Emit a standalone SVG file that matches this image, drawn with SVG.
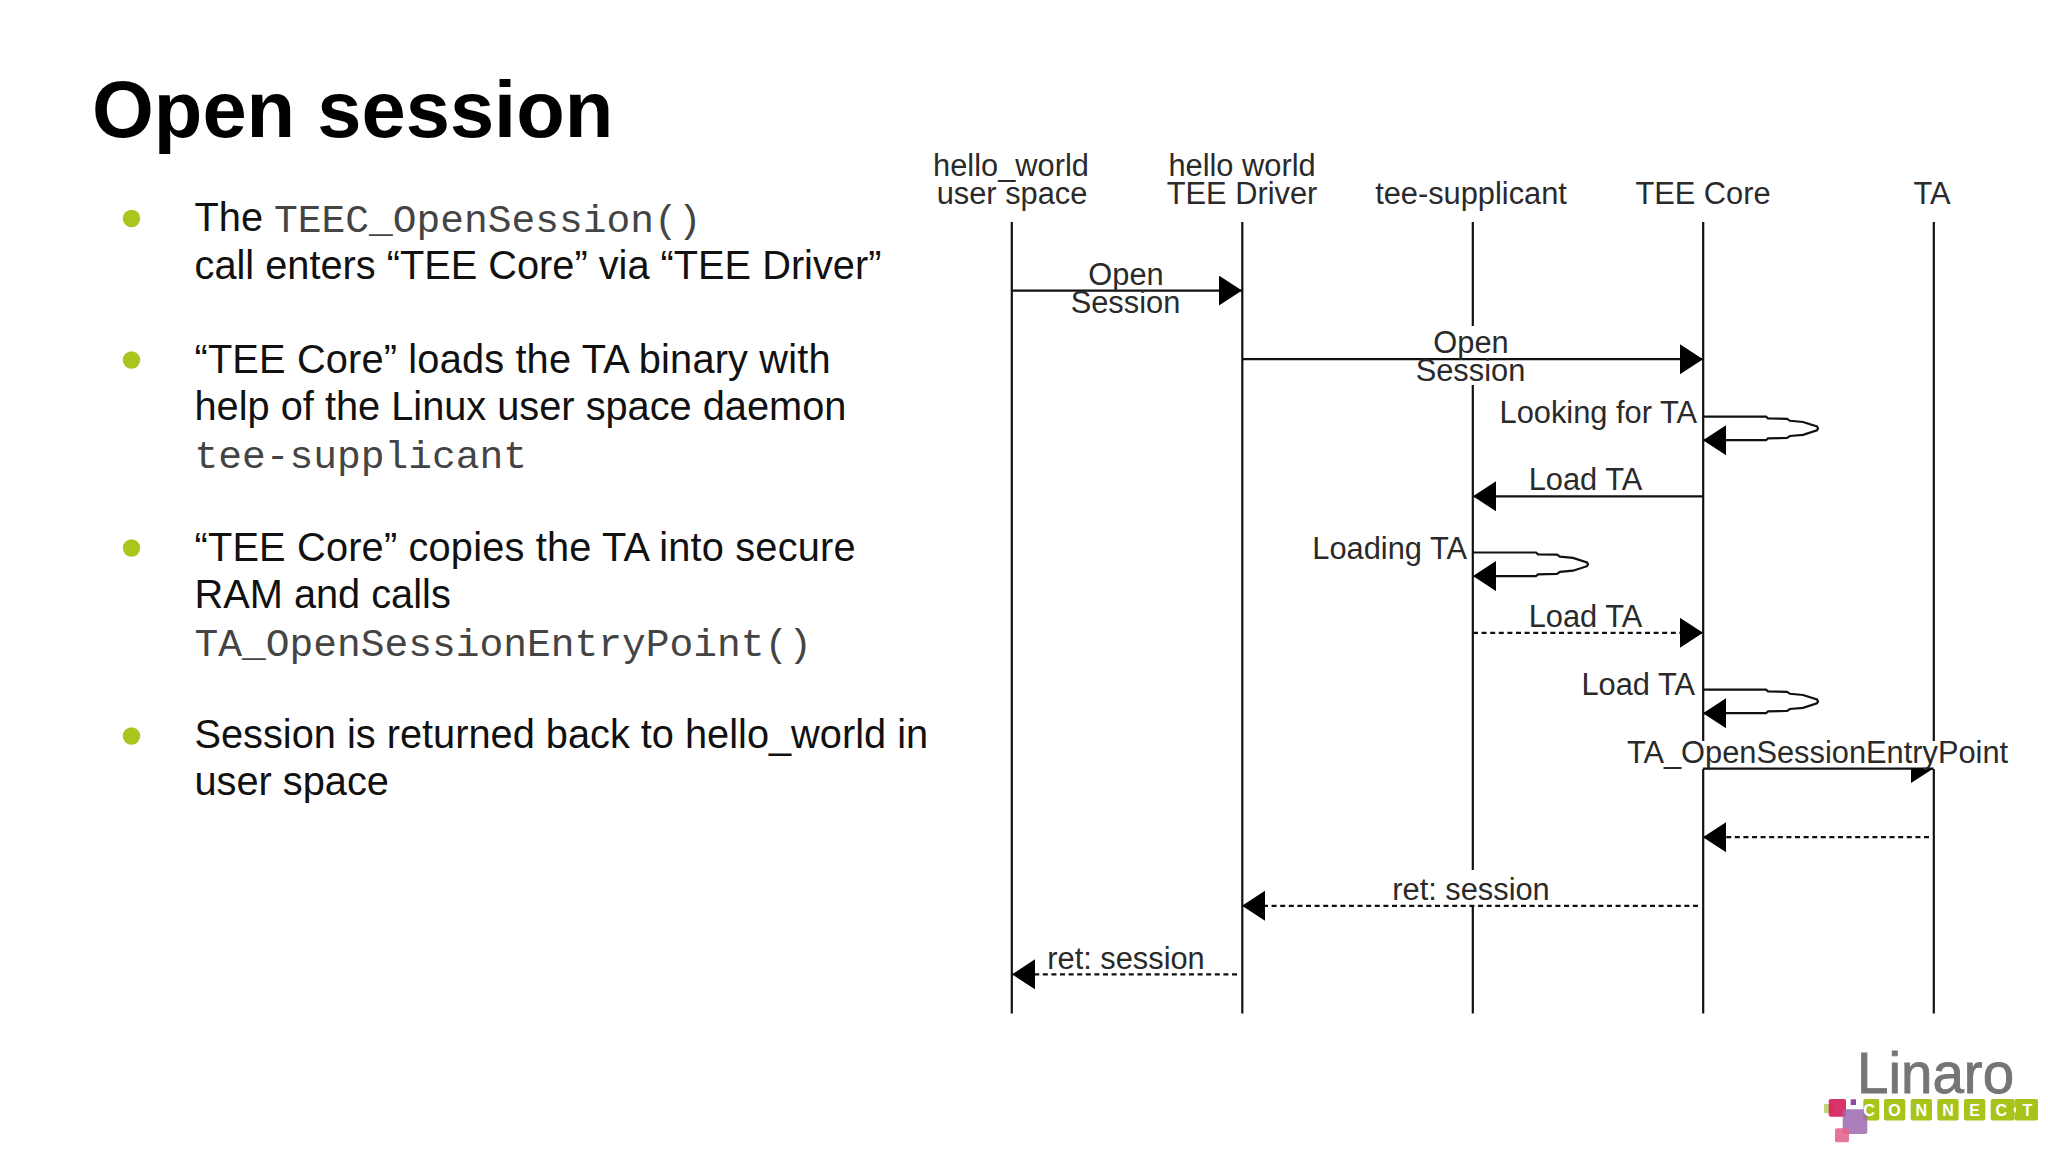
<svg xmlns="http://www.w3.org/2000/svg" width="2048" height="1152" viewBox="0 0 2048 1152">
<style>
text{font-family:"Liberation Sans",Arial,sans-serif}
.t{font-size:79.500px;font-weight:700;fill:#000}
.b{font-size:39.750px;fill:#111}
.m{font-family:"Liberation Mono","Courier New",monospace;font-size:39.600px;fill:#444}
.d{font-size:30.800px;fill:#2a2a2a}
.c{text-anchor:middle}
.e{text-anchor:end}
.dot{fill:#a9c51e}
.ll{stroke:#111;stroke-width:2.2;fill:none}
.a{stroke:#111;stroke-width:2.2;fill:none;marker-end:url(#h)}
.s{stroke-dasharray:5 3.6}
.tile{fill:#a8c41a}
.lt{font-size:16px;font-weight:700;fill:#fff;text-anchor:middle}
</style>
<defs>
<marker id="h" markerUnits="userSpaceOnUse" markerWidth="25" markerHeight="32" refX="23" refY="15" orient="auto"><path d="M0 0L23 15L0 30Z" fill="#000"/></marker>
</defs>
<rect width="2048" height="1152" fill="#fff"/>
<g id="slide-text">
<text class="t" x="92" y="137">Open session</text>
<circle class="dot" cx="131.500" cy="218.500" r="8.700"/>
<text class="b" x="194.500" y="231">The <tspan class="m" dy="1">TEEC_OpenSession()</tspan></text>
<text class="b" x="194.500" y="278.500">call enters “TEE Core” via “TEE Driver”</text>
<circle class="dot" cx="131.500" cy="360" r="8.700"/>
<text class="b" x="194.500" y="372.500" textLength="636" lengthAdjust="spacing">“TEE Core” loads the TA binary with</text>
<text class="b" x="194.500" y="419.500">help of the Linux user space daemon</text>
<text class="m" x="194.500" y="467.500">tee-supplicant</text>
<circle class="dot" cx="131.500" cy="548" r="8.700"/>
<text class="b" x="194.500" y="560.500" textLength="661" lengthAdjust="spacing">“TEE Core” copies the TA into secure</text>
<text class="b" x="194.500" y="607.500">RAM and calls</text>
<text class="m" x="194.500" y="655.500">TA_OpenSessionEntryPoint()</text>
<circle class="dot" cx="131.500" cy="736" r="8.700"/>
<text class="b" x="194.500" y="747.500">Session is returned back to hello_world in</text>
<text class="b" x="194.500" y="795">user space</text>
</g>
<g id="node-hello-user">
<text class="d c" x="1011" y="176">hello_world</text>
<text class="d c" x="1012" y="204">user space</text>
<path class="ll" d="M1011.800 222V1013.500"/>
</g>
<g id="node-hello-driver">
<text class="d c" x="1242" y="176">hello world</text>
<text class="d c" x="1242" y="204">TEE Driver</text>
<path class="ll" d="M1242.300 222V1013.500"/>
</g>
<g id="node-tee-supplicant">
<text class="d c" x="1471" y="204">tee-supplicant</text>
<path class="ll" d="M1472.800 222V326M1472.800 385V870M1472.800 907V1013.500"/>
</g>
<g id="node-tee-core">
<text class="d c" x="1703" y="204">TEE Core</text>
<path class="ll" d="M1703.200 222V741M1703.200 769V1013.500"/>
</g>
<g id="node-ta">
<text class="d c" x="1932" y="204">TA</text>
<path class="ll" d="M1933.800 222V741M1933.800 769V1013.500"/>
</g>
<g id="connectors">
<path class="a" d="M1012 290.600H1242"/>
<path class="a" d="M1242 359.200H1703"/>
<path class="a" d="M1703 416.600H1766L1768 418.400L1787 418.800L1790 420.800L1803 422L1817 426.500L1818 428.400L1817 430.300L1803 434.800L1790 436L1787 438L1768 438.400L1766 440.200H1703"/>
<path class="a" d="M1703 496.300H1473"/>
<path class="a" d="M1473 552.500H1536L1538 554.300L1557 554.700L1560 556.700L1573 557.900L1587 562.400L1588 564.300L1587 566.200L1573 570.700L1560 571.900L1557 573.900L1538 574.300L1536 576.100H1473"/>
<path class="a s" d="M1473 632.800H1703"/>
<path class="a" d="M1703 689.600H1766L1768 691.400L1787 691.800L1790 693.800L1803 695L1817 699.500L1818 701.400L1817 703.300L1803 707.800L1790 709L1787 711L1768 711.400L1766 713.200H1703"/>
<path class="ll" d="M1703 768.600H1933.500"/>
<path d="M1911 768.600H1933.500L1911 783Z" fill="#000"/>
<path class="a s" d="M1929 837.200H1703"/>
<path class="a s" d="M1698 905.800H1242"/>
<path class="a s" d="M1237 974.300H1012"/>
<text class="d c" x="1126" y="284.700">Open</text>
<text class="d c" x="1125.500" y="312.700">Session</text>
<text class="d c" x="1471" y="352.700">Open</text>
<text class="d c" x="1470.500" y="380.700">Session</text>
<text class="d e" x="1697" y="423">Looking for TA</text>
<text class="d c" x="1585.500" y="490">Load TA</text>
<text class="d e" x="1467" y="559">Loading TA</text>
<text class="d c" x="1585.500" y="626.500">Load TA</text>
<text class="d e" x="1695" y="695">Load TA</text>
<text class="d c" x="1817.500" y="763">TA_OpenSessionEntryPoint</text>
<text class="d c" x="1471" y="900">ret: session</text>
<text class="d c" x="1126" y="969">ret: session</text>
</g>
<g id="logo">
<text x="1857" y="1093" font-size="56.500" fill="#757575" stroke="#757575" stroke-width=".9">Linaro</text>
<rect class="tile" x="1863.300" y="1099" width="16" height="21.500" rx="2"/>
<rect class="tile" x="1884" y="1099" width="21.300" height="21.500" rx="2"/>
<rect class="tile" x="1910.700" y="1099" width="21.300" height="21.500" rx="2"/>
<rect class="tile" x="1937.300" y="1099" width="21.300" height="21.500" rx="2"/>
<rect class="tile" x="1964" y="1099" width="21.300" height="21.500" rx="2"/>
<rect class="tile" x="1990.700" y="1099" width="23.800" height="21.500" rx="2"/>
<rect class="tile" x="2014.500" y="1099" width="23.500" height="21.500" rx="2"/>
<path d="M2013 1109.700L2016 1106.500V1113Z" fill="#fff"/>
<rect x="1824" y="1104" width="9.500" height="9" fill="#c8d47a"/>
<rect x="1828.700" y="1099" width="17.300" height="17.700" rx="2" fill="#d6225c" fill-opacity=".92"/>
<rect x="1850.700" y="1099.300" width="5.300" height="5.700" fill="#8e4a9e"/>
<rect x="1842.700" y="1109.300" width="24.600" height="24.700" rx="2.500" fill="#9c68ad" fill-opacity=".85"/>
<rect x="1835" y="1128.300" width="14" height="14" rx="2" fill="#e2668e" fill-opacity=".9"/>
<text class="lt" x="1869" y="1115.500">C</text>
<text class="lt" x="1894.600" y="1115.500">O</text>
<text class="lt" x="1921.300" y="1115.500">N</text>
<text class="lt" x="1948" y="1115.500">N</text>
<text class="lt" x="1974.600" y="1115.500">E</text>
<text class="lt" x="2001.300" y="1115.500">C</text>
<text class="lt" x="2027.300" y="1115.500">T</text>
</g>
</svg>
